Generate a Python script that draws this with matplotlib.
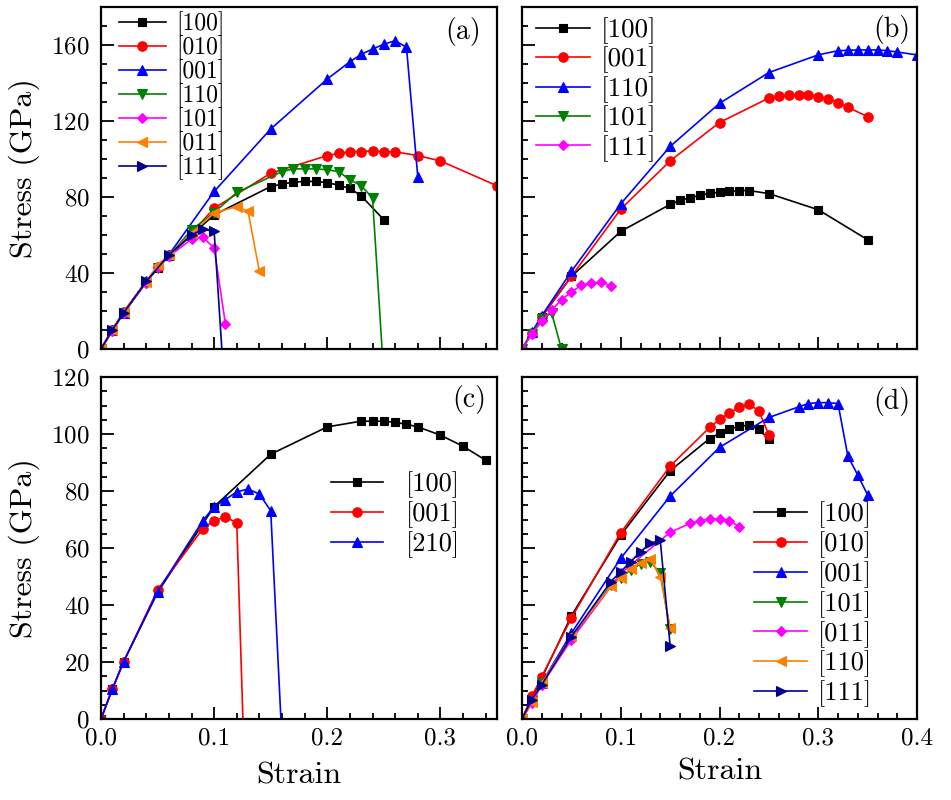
"""
Stress-strain curves along different loading directions, four panels (a)-(d).
"""

import matplotlib
matplotlib.use('Agg')
import matplotlib.pyplot as plt
from matplotlib.ticker import MultipleLocator

plt.rcParams['font.family'] = ['cmr10', 'DejaVu Serif']
plt.rcParams['mathtext.fontset'] = 'cm'
plt.rcParams['axes.formatter.use_mathtext'] = True

# === COLOURS ===
BLACK   = '#000000'
RED     = '#FF0000'
BLUE    = '#0000FF'
GREEN   = '#008000'
MAGENTA = '#FF00FF'
ORANGE  = '#FF8000'
NAVY    = '#000090'

# === DATA: panel (a) ===
a_100_x = [0, 0.01, 0.02, 0.04, 0.05, 0.06, 0.08, 0.1, 0.15, 0.16, 0.17, 0.18, 0.19, 0.2, 0.21, 0.22, 0.23, 0.25]
a_100_y = [0, 10, 19.5, 35.5, 42.5, 49, 60, 70.6, 85.5, 86.8, 87.8, 88.2, 88.2, 87.6, 86.2, 84.5, 80.6, 68.0]
a_010_x = [0, 0.01, 0.02, 0.04, 0.05, 0.06, 0.08, 0.1, 0.15, 0.2, 0.21, 0.22, 0.23, 0.24, 0.25, 0.26, 0.28, 0.3, 0.35]
a_010_y = [0, 10, 19.5, 35.5, 43, 49.5, 61, 74.1, 92.5, 101.8, 102.9, 103.8, 103.9, 104.3, 103.9, 103.8, 101.8, 99.0, 85.9]
a_001_x = [0, 0.01, 0.02, 0.04, 0.06, 0.1, 0.15, 0.2, 0.22, 0.23, 0.24, 0.25, 0.26, 0.27, 0.28]
a_001_y = [0, 10.2, 19, 35.6, 49.6, 82.9, 115.8, 142.1, 151.2, 155.1, 157.9, 160.4, 162.3, 158.8, 90.6]
a_110_x = [0, 0.01, 0.02, 0.04, 0.05, 0.06, 0.08, 0.1, 0.12, 0.16, 0.17, 0.18, 0.19, 0.2, 0.21, 0.22, 0.23, 0.24, 0.25]
a_110_y = [0, 9.5, 19, 35, 42.5, 49, 62.7, 71.8, 82.4, 93.4, 94.8, 94.8, 94.8, 94.3, 93.4, 89, 86, 79.4, -15]
a_101_x = [0, 0.01, 0.02, 0.04, 0.05, 0.06, 0.08, 0.09, 0.1, 0.11]
a_101_y = [0, 9.5, 19, 35, 43, 48.7, 57.8, 58.9, 53.1, 13.1]
a_011_x = [0, 0.01, 0.02, 0.04, 0.05, 0.06, 0.08, 0.1, 0.12, 0.13, 0.14]
a_011_y = [0, 10, 19.5, 35.5, 44, 49.5, 61, 71.5, 75, 72.4, 40.8]
a_111_x = [0, 0.01, 0.02, 0.04, 0.06, 0.08, 0.09, 0.1, 0.11]
a_111_y = [0, 10, 19, 35.6, 49.6, 60, 63, 61.9, -29]

# === DATA: panel (b) ===
b_100_x = [0, 0.01, 0.02, 0.05, 0.1, 0.15, 0.16, 0.17, 0.18, 0.19, 0.2, 0.21, 0.22, 0.23, 0.25, 0.3, 0.35]
b_100_y = [0, 8.4, 17, 38.2, 61.9, 76.1, 78.2, 79.6, 80.8, 82, 82.4, 82.9, 83.4, 83.4, 81.8, 73.3, 57.5]
b_001_x = [0, 0.01, 0.02, 0.05, 0.1, 0.15, 0.2, 0.25, 0.26, 0.27, 0.28, 0.29, 0.3, 0.31, 0.32, 0.33, 0.35]
b_001_y = [0, 8.4, 17, 38.2, 73.6, 99, 119.2, 132.1, 133, 133.7, 133.7, 133.7, 132.7, 131.6, 129.7, 127.2, 122.3]
b_110_x = [0, 0.01, 0.02, 0.05, 0.1, 0.15, 0.2, 0.25, 0.3, 0.32, 0.33, 0.34, 0.35, 0.36, 0.37, 0.38, 0.4]
b_110_y = [0, 8.8, 17.5, 40.8, 76.4, 106.6, 129.3, 145.5, 154.8, 157, 157.2, 157.4, 157.4, 157.4, 157, 156.3, 154.8]
b_101_x = [0, 0.01, 0.02, 0.03, 0.04]
b_101_y = [0, 8, 16, 18.9, 0]
b_111_x = [0, 0.01, 0.02, 0.03, 0.04, 0.05, 0.06, 0.07, 0.08, 0.09]
b_111_y = [0, 7.9, 14.5, 20.5, 25.9, 30, 33.5, 34.7, 35.2, 33.3]

# === DATA: panel (c) ===
c_100_x = [0, 0.01, 0.02, 0.05, 0.1, 0.15, 0.2, 0.23, 0.24, 0.25, 0.26, 0.27, 0.28, 0.3, 0.32, 0.34]
c_100_y = [0, 10.5, 20.1, 44.4, 74.5, 92.9, 102.5, 104.5, 104.5, 104.5, 104.1, 103.4, 102.5, 99.6, 95.7, 90.8]
c_001_x = [0, 0.01, 0.02, 0.05, 0.09, 0.1, 0.11, 0.12, 0.13]
c_001_y = [0, 10.5, 20.1, 45.3, 66.8, 69.6, 70.9, 68.8, -58]
c_210_x = [0, 0.01, 0.02, 0.05, 0.09, 0.1, 0.11, 0.12, 0.13, 0.14, 0.15, 0.16]
c_210_y = [0, 10.5, 20.1, 44.7, 69.6, 74.5, 77, 79.7, 80.7, 78.9, 73.1, -8]

# === DATA: panel (d) ===
d_100_x = [0, 0.01, 0.02, 0.05, 0.1, 0.15, 0.19, 0.2, 0.21, 0.22, 0.23, 0.24, 0.25]
d_100_y = [0, 7.4, 14.4, 36.2, 64.5, 87.1, 98.4, 100.2, 101.8, 102.7, 103.1, 101.6, 98.1]
d_010_x = [0, 0.01, 0.02, 0.05, 0.1, 0.15, 0.19, 0.2, 0.21, 0.22, 0.23, 0.24, 0.25]
d_010_y = [0, 7.9, 14.9, 35.4, 65.4, 88.7, 102.3, 105.1, 107.4, 109.3, 110.4, 108.1, 99.6]
d_001_x = [0, 0.01, 0.02, 0.05, 0.1, 0.15, 0.2, 0.25, 0.28, 0.29, 0.3, 0.31, 0.32, 0.33, 0.34, 0.35]
d_001_y = [0, 6.2, 12.6, 30.1, 56.4, 78.2, 95.3, 105.8, 109.5, 110.7, 111, 111, 110.7, 92.2, 85.6, 78.6]
d_101_x = [0, 0.01, 0.02, 0.05, 0.09, 0.1, 0.11, 0.12, 0.13, 0.14, 0.15]
d_101_y = [0, 6, 12.5, 28.5, 47, 49.4, 52.3, 54.4, 55.2, 51.1, 31.5]
d_011_x = [0, 0.01, 0.02, 0.05, 0.1, 0.15, 0.17, 0.18, 0.19, 0.2, 0.21, 0.22]
d_011_y = [0, 5.6, 12, 27.8, 51.1, 65.5, 68.6, 69.6, 70.2, 70.2, 69.6, 67.5]
d_110_x = [0, 0.01, 0.02, 0.05, 0.09, 0.1, 0.11, 0.12, 0.13, 0.14, 0.15]
d_110_y = [0, 6, 12.5, 29, 46.5, 49.5, 52.8, 54.8, 56, 50, 32]
d_111_x = [0, 0.01, 0.02, 0.05, 0.09, 0.1, 0.11, 0.12, 0.13, 0.14, 0.15]
d_111_y = [0, 6.8, 12, 28.9, 48.2, 51.7, 55.2, 58.7, 61.6, 62.8, 25.7]

# tick labels
x_ticks_left   = [0.0, 0.1, 0.2, 0.3]
x_labels_left  = ['0.0', '0.1', '0.2', '0.3']
x_ticks_right  = [0.0, 0.1, 0.2, 0.3, 0.4]
x_labels_right = ['0.0', '0.1', '0.2', '0.3', '0.4']
y_ticks_top    = [0, 40, 80, 120, 160]
y_ticks_bottom = [0, 20, 40, 60, 80, 100, 120]

# marker style per symbol
MS = {'s': 5.5, 'o': 6.8, '^': 7.2, 'v': 7.2, 'D': 5.0, '<': 7.2, '>': 7.2}

panels = {
    'a': [(a_100_x, a_100_y, '[100]', BLACK, 's'),
          (a_010_x, a_010_y, '[010]', RED, 'o'),
          (a_001_x, a_001_y, '[001]', BLUE, '^'),
          (a_110_x, a_110_y, '[110]', GREEN, 'v'),
          (a_101_x, a_101_y, '[101]', MAGENTA, 'D'),
          (a_011_x, a_011_y, '[011]', ORANGE, '<'),
          (a_111_x, a_111_y, '[111]', NAVY, '>')],
    'b': [(b_100_x, b_100_y, '[100]', BLACK, 's'),
          (b_001_x, b_001_y, '[001]', RED, 'o'),
          (b_110_x, b_110_y, '[110]', BLUE, '^'),
          (b_101_x, b_101_y, '[101]', GREEN, 'v'),
          (b_111_x, b_111_y, '[111]', MAGENTA, 'D')],
    'c': [(c_100_x, c_100_y, '[100]', BLACK, 's'),
          (c_001_x, c_001_y, '[001]', RED, 'o'),
          (c_210_x, c_210_y, '[210]', BLUE, '^')],
    'd': [(d_100_x, d_100_y, '[100]', BLACK, 's'),
          (d_010_x, d_010_y, '[010]', RED, 'o'),
          (d_001_x, d_001_y, '[001]', BLUE, '^'),
          (d_101_x, d_101_y, '[101]', GREEN, 'v'),
          (d_011_x, d_011_y, '[011]', MAGENTA, 'D'),
          (d_110_x, d_110_y, '[110]', ORANGE, '<'),
          (d_111_x, d_111_y, '[111]', NAVY, '>')],
}

# === FIGURE ===
fig = plt.figure(figsize=(9.51, 8.0), dpi=100)
fig.patch.set_facecolor('white')

W, H = 951, 800
boxes = {
    'a': (101, 497, 7, 349),
    'b': (522, 917, 7, 349),
    'c': (101, 497, 377, 719),
    'd': (522, 917, 377, 719),
}
axes = {}
for key, (l, r, t, b) in boxes.items():
    axes[key] = fig.add_axes([l / W, 1 - b / H, (r - l) / W, (b - t) / H])

# legend placement: (anchor x, anchor y, fontsize, handletextpad, labelspacing)
legend_opts = {
    'a': (0.045, 0.987, 17, 0.45, -0.035),
    'b': (0.035, 0.97, 19.5, 0.4, 0.1),
    'c': (0.58, 0.725, 19, 0.85, 0.12),
    'd': (0.588, 0.637, 19, 0.4, 0.12),
}
tag_pos = {'a': (0.914, 0.927), 'b': (0.937, 0.933), 'c': (0.929, 0.933), 'd': (0.937, 0.927)}
xlabel_pad = {'c': 9, 'd': 6}
ylabel_y = {'a': 0.53, 'c': 0.5}

for key, ax in axes.items():
    for x, y, label, color, marker in panels[key]:
        ax.plot(x, y, color=color, marker=marker, markersize=MS[marker],
                linewidth=1.2, label=label, markeredgewidth=0.8,
                markeredgecolor=color, markerfacecolor=color)

    top = key in ('a', 'b')
    left = key in ('a', 'c')

    ax.set_ylim(0, 180 if top else 120)
    ax.set_xlim(0, 0.35 if left else 0.4)

    if left:
        ax.set_xticks(x_ticks_left)
        ax.set_xticklabels(x_labels_left)
    else:
        ax.set_xticks(x_ticks_right)
        ax.set_xticklabels(x_labels_right)
    ax.xaxis.set_minor_locator(MultipleLocator(0.02))

    if top:
        ax.set_yticks(y_ticks_top)
        ax.yaxis.set_minor_locator(MultipleLocator(10))
    else:
        ax.set_yticks(y_ticks_bottom)
        ax.yaxis.set_minor_locator(MultipleLocator(5))

    ax.tick_params(which='both', direction='in', top=False, right=False,
                   width=1.3, labelsize=18)
    ax.tick_params(which='major', length=9)
    ax.tick_params(which='minor', length=4.5)
    ax.tick_params(axis='y', pad=8)
    ax.tick_params(axis='x', pad=6)

    if top:
        ax.tick_params(axis='x', labelbottom=False)
    else:
        ax.set_xlabel('Strain', fontsize=23, labelpad=xlabel_pad[key])
    if left:
        ax.set_ylabel('Stress (GPa)', fontsize=23, labelpad=8, y=ylabel_y[key])
    else:
        ax.tick_params(axis='y', labelleft=False)

    for sp in ax.spines.values():
        sp.set_linewidth(1.6)

    lx, ly, fs, pad, ls = legend_opts[key]
    ax.legend(loc='upper left', bbox_to_anchor=(lx, ly), frameon=False,
              fontsize=fs, borderpad=0, borderaxespad=0, handlelength=2.0,
              handletextpad=pad, labelspacing=ls)

    tx, ty = tag_pos[key]
    ax.text(tx, ty, f'({key})', transform=ax.transAxes, fontsize=20,
            ha='center', va='center')

fig.savefig('out.png', dpi=100, facecolor='white')
plt.close(fig)
